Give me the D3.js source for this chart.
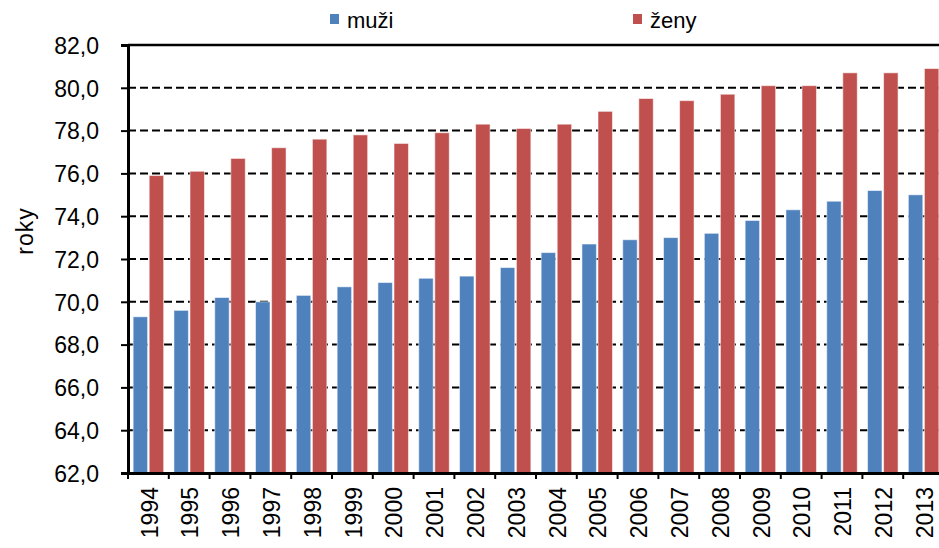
<!DOCTYPE html>
<html>
<head>
<meta charset="UTF-8" />
<style>
    body { margin: 0; padding: 0; background: #fff; }
    svg { display: block; font-family: "Liberation Sans", Arial, sans-serif; }
    .grid line { stroke: #000; stroke-width: 2px; stroke-dasharray: 8, 4; }
    .tick text { fill: #000; }
</style>
<title>Naděje dožití</title>
</head>
<body>
<svg width="939" height="548"></svg>
<script src="https://cdn.jsdelivr.net/npm/d3@7"></script>
<script>
    // data
    const years = ["1994", "1995", "1996", "1997", "1998", "1999", "2000", "2001", "2002", "2003",
        "2004", "2005", "2006", "2007", "2008", "2009", "2010", "2011", "2012", "2013"];
    const muzi = [69.3, 69.6, 70.2, 70.0, 70.3, 70.7, 70.9, 71.1, 71.2, 71.6,
        72.3, 72.7, 72.9, 73.0, 73.2, 73.8, 74.3, 74.7, 75.2, 75.0];
    const zeny = [75.9, 76.1, 76.7, 77.2, 77.6, 77.8, 77.4, 77.9, 78.3, 78.1,
        78.3, 78.9, 79.5, 79.4, 79.7, 80.1, 80.1, 80.7, 80.7, 80.9];
    const series = ["muži", "ženy"];
    const yTicks = [62, 64, 66, 68, 70, 72, 74, 76, 78, 80, 82];

    const colors = { "muži": "#4F81BD", "ženy": "#C0504D" };

    const svg = d3.select("svg"),
        plotLeft = 128, plotRight = 944, plotTop = 45, plotBottom = 473;

    const x = d3.scaleBand().domain(years).range([plotLeft, plotRight]).padding(0);
    const x1 = d3.scaleBand().domain(series).range([0, x.bandwidth()])
        .paddingInner(0.1).paddingOuter(0.32);
    const y = d3.scaleLinear().domain([62, 82]).range([plotBottom, plotTop]);

    const fmt = d => d.toFixed(1).replace(".", ",");

    // dashed gridlines
    svg.append("g").attr("class", "grid")
        .selectAll("line")
        .data(yTicks.filter(d => d > 62 && d < 82))
        .enter().append("line")
        .attr("x1", plotLeft).attr("x2", plotRight)
        .attr("y1", d => y(d)).attr("y2", d => y(d));

    // top line
    svg.append("line")
        .attr("x1", plotLeft).attr("x2", plotRight)
        .attr("y1", y(82)).attr("y2", y(82))
        .attr("stroke", "#000").attr("stroke-width", 2.5);

    // bars
    const rows = years.map((yr, i) => ({ year: yr, values: [
        { key: "muži", v: muzi[i] }, { key: "ženy", v: zeny[i] }] }));

    const group = svg.append("g").selectAll("g")
        .data(rows)
        .enter().append("g")
        .attr("transform", d => `translate(${x(d.year)},0)`);

    group.selectAll("rect")
        .data(d => d.values)
        .enter().append("rect")
        .attr("x", d => x1(d.key))
        .attr("width", x1.bandwidth())
        .attr("y", d => y(d.v))
        .attr("height", d => y(62) - y(d.v))
        .attr("fill", d => colors[d.key])
        .attr("stroke", "rgba(255,255,255,0.55)")
        .attr("stroke-width", 1);

    // y axis
    const yAxis = svg.append("g")
        .attr("transform", `translate(${plotLeft},0)`)
        .call(d3.axisLeft(y).tickValues(yTicks).tickFormat(fmt).tickSize(7).tickPadding(22));
    yAxis.select(".domain").attr("stroke", "#000").attr("stroke-width", 3);
    yAxis.selectAll(".tick line").attr("stroke", "#000").attr("stroke-width", 2);
    yAxis.selectAll(".tick text").attr("font-size", 23).attr("dy", "0.36em");

    // x axis
    const xAxis = svg.append("g")
        .attr("transform", `translate(0,${plotBottom})`)
        .call(d3.axisBottom(x).tickSize(0).tickSizeOuter(0));
    xAxis.select(".domain").attr("stroke", "#000").attr("stroke-width", 3);
    xAxis.selectAll(".tick text")
        .attr("font-size", 23)
        .attr("transform", "rotate(-90)")
        .attr("text-anchor", "end")
        .attr("x", -14)
        .attr("y", 1)
        .attr("dy", "0.36em");

    // x ticks at band boundaries
    svg.append("g").selectAll("line")
        .data(years)
        .enter().append("line")
        .attr("x1", d => x(d)).attr("x2", d => x(d))
        .attr("y1", plotBottom).attr("y2", plotBottom + 6)
        .attr("stroke", "#000").attr("stroke-width", 2);

    // y label
    svg.append("text")
        .attr("transform", "translate(25,231) rotate(-90)")
        .attr("text-anchor", "middle")
        .attr("dy", "0.36em")
        .attr("font-size", 23)
        .attr("letter-spacing", 1)
        .text("roky");

    // legend
    const legendX = { "muži": 330, "ženy": 633 };
    const legend = svg.append("g").selectAll("g")
        .data(series)
        .enter().append("g")
        .attr("transform", d => `translate(${legendX[d]},0)`);
    legend.append("rect")
        .attr("x", 0).attr("y", 14)
        .attr("width", 9).attr("height", 10)
        .attr("fill", d => colors[d]);
    legend.append("text")
        .attr("x", 17).attr("y", 28)
        .attr("font-size", 22)
        .text(d => d);
</script>
</body>
</html>
